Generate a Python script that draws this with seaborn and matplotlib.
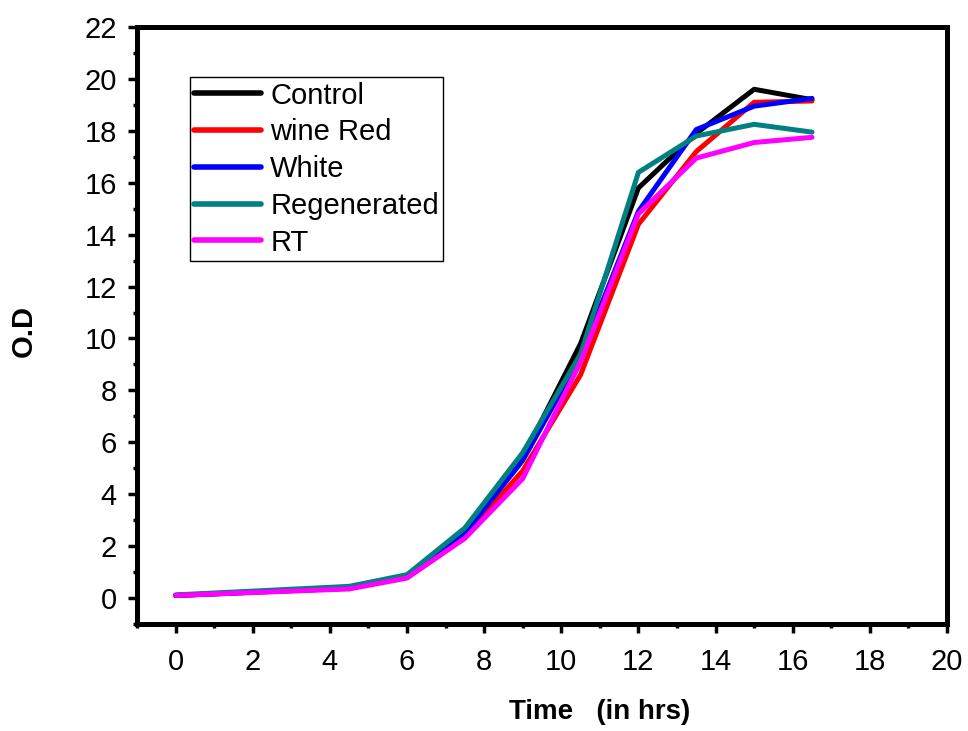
import matplotlib
matplotlib.use("Agg")
import matplotlib.pyplot as plt
import seaborn as sns
import pandas as pd
from matplotlib.ticker import MultipleLocator

time_hrs = [0, 4.5, 6, 7.5, 9, 10.5, 12, 13.5, 15, 16.5]
control = [0.1, 0.4, 0.85, 2.5, 5.4, 9.8, 15.8, 17.9, 19.6, 19.2]
wine_red = [0.1, 0.38, 0.8, 2.4, 4.9, 8.6, 14.4, 17.2, 19.1, 19.15]
white = [0.1, 0.38, 0.82, 2.5, 5.3, 9.3, 14.9, 18.05, 18.95, 19.25]
regenerated = [0.12, 0.45, 0.9, 2.7, 5.6, 9.4, 16.4, 17.8, 18.25, 17.95]
rt = [0.1, 0.35, 0.77, 2.3, 4.6, 9.1, 14.8, 16.95, 17.55, 17.75]

series_names = ["Control", "wine Red", "White", "Regenerated", "RT"]
series_values = [control, wine_red, white, regenerated, rt]
colors = ["#000000", "#FF0000", "#0000FF", "#008080", "#FF00FF"]

rows = []
for name, vals in zip(series_names, series_values):
    for t, v in zip(time_hrs, vals):
        rows.append({"Time": t, "OD": v, "Sample": name})
df = pd.DataFrame(rows)

sns.set_style("white")
plt.rcParams["font.family"] = ["Liberation Sans", "DejaVu Sans"]
plt.rcParams["text.color"] = "black"
plt.rcParams["axes.labelcolor"] = "black"
plt.rcParams["xtick.color"] = "black"
plt.rcParams["ytick.color"] = "black"

fig = plt.figure(figsize=(9.68, 7.31), dpi=100)
ax = fig.add_axes([137/968, 1-624/731, 810/968, 597/731])

sns.lineplot(data=df, x="Time", y="OD", hue="Sample", hue_order=series_names,
             palette=colors, linewidth=3.6, ax=ax, legend=True)

ax.set_xlim(-1, 20)
ax.set_ylim(-1, 22)
ax.xaxis.set_major_locator(MultipleLocator(2))
ax.xaxis.set_minor_locator(MultipleLocator(1))
ax.yaxis.set_major_locator(MultipleLocator(2))
ax.yaxis.set_minor_locator(MultipleLocator(1))

for sp in ax.spines.values():
    sp.set_visible(True)
    sp.set_color("black")
    sp.set_linewidth(3.6)

ax.tick_params(which="major", direction="out", length=6.5, width=2.5,
               labelsize=21, colors="black", left=True, bottom=True)
ax.tick_params(which="minor", direction="out", length=3, width=2.5,
               colors="black", left=True, bottom=True)
ax.tick_params(axis="x", which="major", pad=10.5)
ax.tick_params(axis="y", which="major", pad=8)

ax.set_xlabel("Time   (in hrs)", fontsize=20, fontweight="bold", color="black")
ax.set_ylabel("O.D", fontsize=21, fontweight="bold", color="black")
ax.xaxis.set_label_coords(0.571, -0.125)
ax.yaxis.set_label_coords(-0.122, 0.491)

leg = ax.legend(loc="upper left", bbox_to_anchor=(0.0654, 0.916), fontsize=21,
                frameon=True, fancybox=False, framealpha=1, edgecolor="black",
                handlelength=2.3, handletextpad=0.3, labelspacing=0.3,
                borderpad=0.15, borderaxespad=0)
leg.get_frame().set_linewidth(1.0)
for h in leg.get_lines():
    h.set_linewidth(4)
for t in leg.get_texts():
    t.set_color("black")

fig.savefig("out.png", dpi=100)
